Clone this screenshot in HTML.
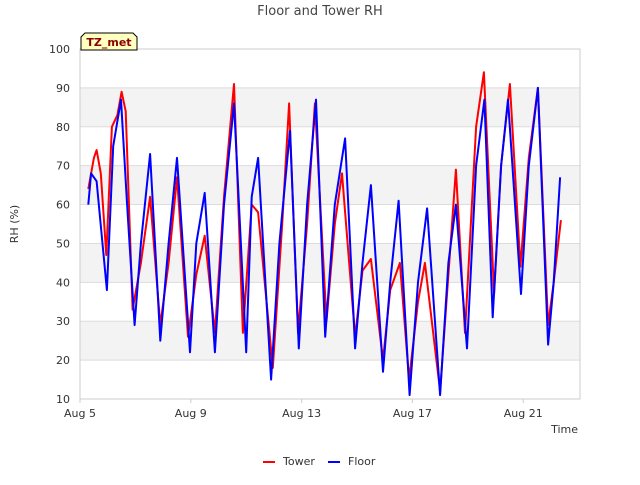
<!DOCTYPE html>
<html><head><meta charset="utf-8"><style>
body{margin:0;background:#fff;font-family:"Liberation Sans","DejaVu Sans",sans-serif}
svg text{font-family:"DejaVu Sans","Liberation Sans",sans-serif}
</style></head><body>
<svg id="c" width="640" height="480" xmlns="http://www.w3.org/2000/svg"></svg>
<script>
const xTickLabels=["Aug 5","Aug 9","Aug 13","Aug 17","Aug 21"];
const xTickDays=[5,9,13,17,21];
const yTicks=[10,20,30,40,50,60,70,80,90,100];
const towerDays=[5.3,5.5,5.6,5.75,5.95,6.15,6.35,6.5,6.65,6.9,7.2,7.53,7.9,8.2,8.5,8.9,9.2,9.5,9.87,10.2,10.56,10.88,11.2,11.43,11.96,12.3,12.55,12.87,13.2,13.48,13.9,14.2,14.46,14.93,15.2,15.5,15.94,16.2,16.55,16.88,17.2,17.45,18.0,18.3,18.57,18.9,19.3,19.58,19.95,20.2,20.52,20.9,21.2,21.53,21.9,22.1,22.36];
const towerVals=[64,72,74,68,47,80,83,89,84,33,45,62,29,45,67,26,42,52,27,62,91,27,60,58,18,55,86,27,55,86,30,55,68,26,43,46,20,38,45,15,35,45,12,42,69,27,80,94,37,70,91,44,72,90,29,40,56];
const floorDays=[5.3,5.4,5.6,5.97,6.2,6.48,6.7,6.97,7.2,7.53,7.9,8.2,8.5,8.97,9.2,9.5,9.87,10.2,10.56,11.0,11.2,11.43,11.9,12.2,12.58,12.9,13.2,13.52,13.85,14.2,14.57,14.93,15.2,15.5,15.94,16.2,16.5,16.9,17.2,17.53,18.0,18.3,18.57,18.97,19.3,19.6,19.9,20.2,20.45,20.92,21.2,21.53,21.9,22.1,22.33];
const floorVals=[60,68,66,38,75,87,60,29,50,73,25,50,72,22,50,63,22,60,86,22,62,72,15,50,79,23,60,87,26,60,77,23,45,65,17,40,61,11,40,59,11,45,60,23,70,87,31,70,87,37,70,90,24,40,67];
const L=80,R=580,T=49,B=399;
const xS=d=>L+(d-5)*(R-L)/18.05;
const yS=v=>B-(v-10)*(B-T)/90;
const svg=document.getElementById('c');
function mk(tag,attrs,txt){const e=document.createElementNS('http://www.w3.org/2000/svg',tag);for(const k in attrs)e.setAttribute(k,attrs[k]);if(txt!==undefined)e.textContent=txt;svg.appendChild(e);return e;}
// bands
[20,40,60,80].forEach(v=>{const e=mk('rect',{x:L,y:yS(v+10),width:R-L,height:yS(v)-yS(v+10),fill:'#f3f3f3'});

});
yTicks.forEach(v=>{const e=mk('line',{x1:L,x2:R,y1:yS(v),y2:yS(v),stroke:'#dcdcdc','stroke-width':1});


const t=mk('text',{x:L-10,y:yS(v)+4,'text-anchor':'end','font-size':11,fill:'#333'},v);

});
const fr=mk('rect',{x:L,y:T,width:R-L,height:B-T,fill:'none',stroke:'#ccc'});


xTickDays.forEach((d,i)=>{const tk=mk('line',{x1:xS(d),x2:xS(d),y1:B,y2:B+4,stroke:'#ccc'});


const t=mk('text',{x:xS(d),y:B+18,'text-anchor':'middle','font-size':11,fill:'#333'},xTickLabels[i]);

});
function line(ds,vs,col,name){const p=ds.map((d,i)=>(i?'L':'M')+xS(d).toFixed(1)+','+yS(vs[i]).toFixed(1)).join('');
const e=mk('path',{d:p,fill:'none',stroke:col,'stroke-width':2,'stroke-linejoin':'round'});

}
line(towerDays,towerVals,'#ff0000','tower-line');
line(floorDays,floorVals,'#0000ff','floor-line');
const ti=mk('text',{x:320,y:15,'text-anchor':'middle','font-size':13,fill:'#444'},'Floor and Tower RH');

const yt=mk('text',{x:18,y:224,'text-anchor':'middle','font-size':11,fill:'#333',transform:'rotate(-90 18 224)'},'RH (%)');

const xt=mk('text',{x:578,y:433,'text-anchor':'end','font-size':11,fill:'#333'},'Time');

const tb=mk('path',{d:'M81,50 L81,37 L85,33 L133,33 L137,37 L137,50 Z',fill:'#ffffc0',stroke:'#000','stroke-width':1});

const tt=mk('text',{x:109,y:46,'text-anchor':'middle','font-size':11,'font-weight':'bold',fill:'#8b0000'},'TZ_met');

[[263,'#ff0000','Tower'],[328,'#0000ff','Floor']].forEach(([x,c,n])=>{
const l=mk('line',{x1:x,x2:x+12,y1:462,y2:462,stroke:c,'stroke-width':2});

const t=mk('text',{x:x+20,y:465,'font-size':11,fill:'#333'},n);
});
</script>
</body></html>
